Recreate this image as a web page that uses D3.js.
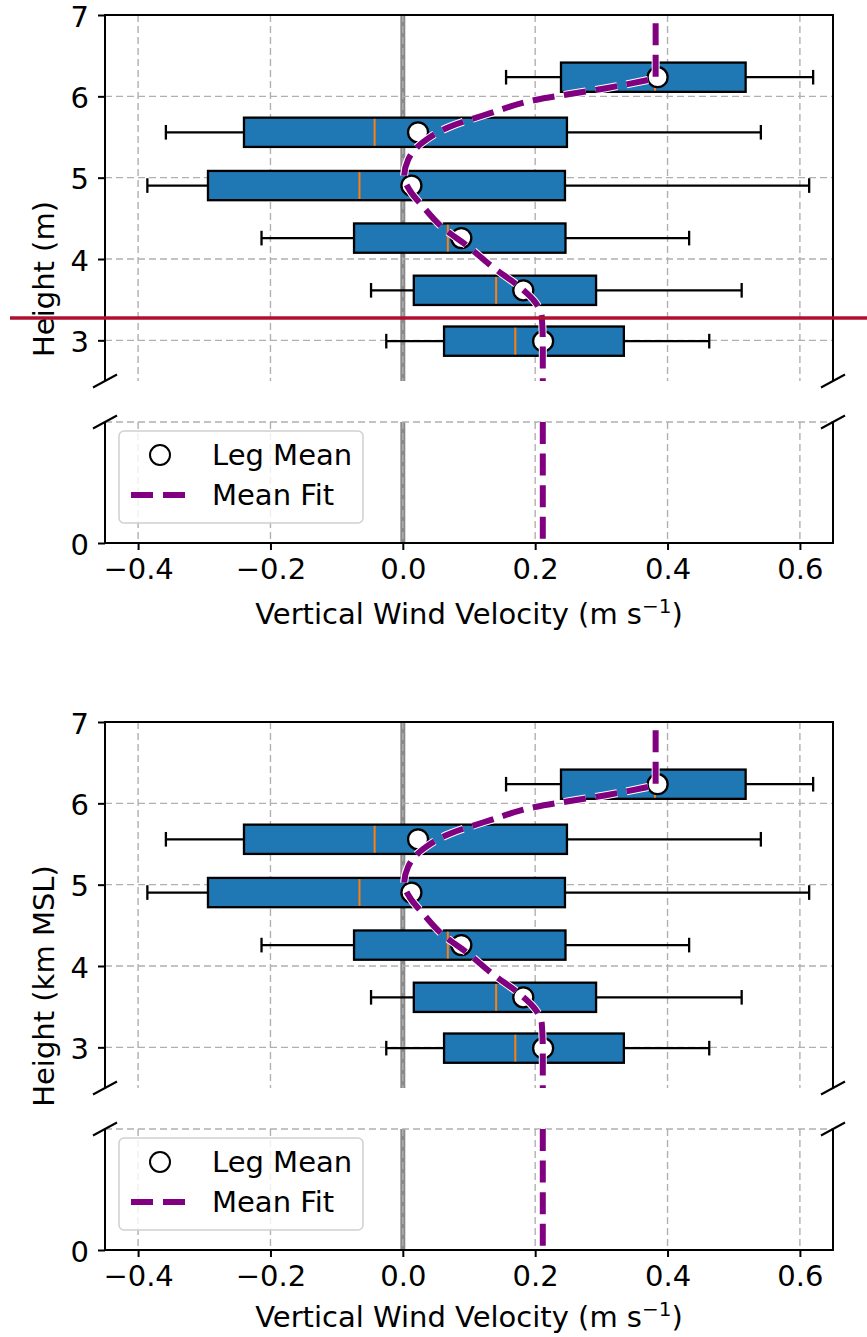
<!DOCTYPE html>
<html>
<head>
<meta charset="utf-8">
<script src="https://cdn.jsdelivr.net/npm/d3@7"></script>
<style>
  html, body { margin: 0; padding: 0; background: #fff; }
  svg { display: block; font-family: "DejaVu Sans", sans-serif; }
</style>
</head>
<body>
<svg id="fig" width="867" height="1337"></svg>
<script>
// Per-leg box statistics (vertical wind velocity, m/s) at each flight-leg height
const legHeights   = [6.235, 5.558, 4.903, 4.257, 3.615, 2.99];
const whiskerLow   = [0.156, -0.358, -0.386, -0.2135, -0.048, -0.025];
const quartile1    = [0.239, -0.240, -0.2944, -0.0737, 0.0166, 0.0623];
const medians      = [0.381, -0.0426, -0.0655, 0.068, 0.141, 0.170];
const quartile3    = [0.518, 0.248, 0.245, 0.2458, 0.292, 0.334];
const whiskerHigh  = [0.620, 0.541, 0.614, 0.4326, 0.512, 0.463];
const legMeans     = [0.385, 0.023, 0.013, 0.0884, 0.182, 0.212];

// Mean fit profile (height, velocity)
const fitHeights = [6.90, 6.22, 6.10, 5.955, 5.79, 5.626, 5.44, 5.22, 5.01, 4.85, 4.64, 4.38, 4.17, 3.90, 3.66, 3.47, 3.29, 2.96, 2.5];
const fitValues  = [0.382, 0.382, 0.307, 0.200, 0.131, 0.071, 0.031, 0.008, 0.002, 0.010, 0.031, 0.061, 0.096, 0.136, 0.176, 0.200, 0.210, 0.2115, 0.2115];
const surfaceFit = 0.2115;

// Axis ticks
const xTicks = [-0.4, -0.2, 0.0, 0.2, 0.4, 0.6];
const yTicksUpper = [3, 4, 5, 6, 7];
const yTicksLower = [0];
const panelLabels = ["Height (m)", "Height (km MSL)"];

const svg = d3.select("#fig");
const FONT = 29;
const BOX_FILL = "#1f77b4";
const FIT_COLOR = "#800080";
const GRID = "#b0b0b0";
const boxHalf = 0.18;

const x = d3.scaleLinear().domain([-0.45, 0.65]).range([105, 833]);

function drawPanel(offset, ylabel, xLabelY) {
  const g = svg.append("g").attr("transform", `translate(0,${offset})`);
  const yU = d3.scaleLinear().domain([2.5, 7]).range([381, 15]);
  const yL = d3.scaleLinear().domain([0, 1.5]).range([543, 422]);
  const [x0, x1] = x.range();

  // zero reference line in both sub-axes
  [[yU, 7, 2.5], [yL, 1.5, 0]].forEach(([ys, a, b]) => {
    g.append("line").attr("x1", x(0)).attr("x2", x(0))
      .attr("y1", ys(a)).attr("y2", ys(b))
      .attr("stroke", "#8a8a8a").attr("stroke-width", 5);
  });

  // grid
  const grid = g.append("g").attr("stroke", GRID).attr("stroke-width", 1.4)
    .attr("stroke-dasharray", "7,4").attr("fill", "none");
  xTicks.forEach(t => {
    grid.append("line").attr("x1", x(t)).attr("x2", x(t)).attr("y1", yU(7)).attr("y2", yU(2.5));
    grid.append("line").attr("x1", x(t)).attr("x2", x(t)).attr("y1", yL(1.5)).attr("y2", yL(0));
  });
  [3, 4, 5, 6].forEach(t => {
    grid.append("line").attr("x1", x0).attr("x2", x1).attr("y1", yU(t)).attr("y2", yU(t));
  });
  grid.append("line").attr("x1", x0).attr("x2", x1).attr("y1", yL(1.5)).attr("y2", yL(1.5));

  // box plots
  const boxes = g.append("g");
  legHeights.forEach((h, i) => {
    const b = boxes.append("g").attr("stroke", "#000").attr("stroke-width", 2.3);
    b.append("line").attr("x1", x(whiskerLow[i])).attr("x2", x(quartile1[i]))
      .attr("y1", yU(h)).attr("y2", yU(h));
    b.append("line").attr("x1", x(quartile3[i])).attr("x2", x(whiskerHigh[i]))
      .attr("y1", yU(h)).attr("y2", yU(h));
    [whiskerLow[i], whiskerHigh[i]].forEach(v => {
      b.append("line").attr("x1", x(v)).attr("x2", x(v))
        .attr("y1", yU(h + boxHalf / 2)).attr("y2", yU(h - boxHalf / 2));
    });
    b.append("rect").attr("x", x(quartile1[i])).attr("width", x(quartile3[i]) - x(quartile1[i]))
      .attr("y", yU(h + boxHalf)).attr("height", yU(h - boxHalf) - yU(h + boxHalf))
      .attr("fill", BOX_FILL);
    b.append("line").attr("x1", x(medians[i])).attr("x2", x(medians[i]))
      .attr("y1", yU(h + boxHalf) + 1.2).attr("y2", yU(h - boxHalf) - 1.2)
      .attr("stroke", "#ff7f0e").attr("stroke-width", 2);
  });

  // leg means
  g.append("g").selectAll("circle").data(legHeights).join("circle")
    .attr("cx", (h, i) => x(legMeans[i])).attr("cy", h => yU(h)).attr("r", 10)
    .attr("fill", "#fff").attr("stroke", "#000").attr("stroke-width", 2.3);

  // mean fit curve: straight above the top leg, smooth below it
  const pts = fitHeights.map((h, i) => [x(fitValues[i]), yU(h)]);
  const topPart = d3.line()(pts.slice(0, 2));
  const rest = d3.line().curve(d3.curveMonotoneY)(pts.slice(1));
  const fitPath = topPart + rest.replace(/^M[^LC]*/, "");
  const lowerPath = d3.line()([[x(surfaceFit), yL(1.5)], [x(surfaceFit), yL(0)]]);
  [fitPath, lowerPath].forEach(p => {
    g.append("path").attr("d", p).attr("fill", "none").attr("stroke", "#fff")
      .attr("stroke-width", 8).attr("stroke-dasharray", "22,9.6");
    g.append("path").attr("d", p).attr("fill", "none").attr("stroke", FIT_COLOR)
      .attr("stroke-width", 6).attr("stroke-dasharray", "22,9.6");
  });

  // spines
  const sp = g.append("g").attr("stroke", "#000").attr("stroke-width", 2).attr("fill", "none");
  sp.append("path").attr("d", `M${x0},${yU(2.5)}V${yU(7)}H${x1}V${yU(2.5)}`);
  sp.append("path").attr("d", `M${x0},${yL(1.5)}V${yL(0)}H${x1}V${yL(1.5)}`);
  // broken-axis marks
  [[x0, yU(2.5)], [x1, yU(2.5)], [x0, yL(1.5)], [x1, yL(1.5)]].forEach(([cx, cy]) => {
    sp.append("line").attr("x1", cx - 12).attr("y1", cy + 6.5).attr("x2", cx + 12).attr("y2", cy - 6.5);
  });

  // axes
  const axU = g.append("g").attr("transform", `translate(${x0},0)`)
    .call(d3.axisLeft(yU).tickValues(yTicksUpper).tickFormat(d3.format("d")).tickSize(7).tickPadding(9));
  const axL = g.append("g").attr("transform", `translate(${x0},0)`)
    .call(d3.axisLeft(yL).tickValues(yTicksLower).tickFormat(d3.format("d")).tickSize(7).tickPadding(9));
  const axX = g.append("g").attr("transform", `translate(0,${yL(0)})`)
    .call(d3.axisBottom(x).tickValues(xTicks).tickFormat(d3.format(".1f")).tickSize(7).tickPadding(8));
  [axU, axL, axX].forEach(a => {
    a.select(".domain").remove();
    a.selectAll(".tick line").attr("stroke", "#000").attr("stroke-width", 2);
    a.selectAll(".tick text").attr("fill", "#000").style("font-size", FONT + "px")
      .style("font-family", "DejaVu Sans");
  });
  [axU, axL].forEach(a => a.selectAll(".tick text").attr("dy", "0.38em"));

  // axis labels
  const xl = g.append("text").attr("x", (x0 + x1) / 2).attr("y", xLabelY)
    .attr("text-anchor", "middle").style("font-size", FONT + "px");
  xl.append("tspan").text("Vertical Wind Velocity (m s");
  xl.append("tspan").attr("dy", -11).style("font-size", "20px").text("\u22121");
  xl.append("tspan").attr("dy", 11).text(")");

  g.append("text").attr("transform", `translate(54,${(yU(7) + yL(0)) / 2}) rotate(-90)`)
    .attr("text-anchor", "middle").style("font-size", FONT + "px").text(ylabel);

  // legend
  const lg = g.append("g");
  lg.append("rect").attr("x", 119).attr("y", 431).attr("width", 244).attr("height", 92)
    .attr("rx", 5).attr("fill", "#fff").attr("fill-opacity", 0.8)
    .attr("stroke", "#d0d0d0").attr("stroke-width", 1.5);
  lg.append("circle").attr("cx", 160).attr("cy", 455).attr("r", 10)
    .attr("fill", "#fff").attr("stroke", "#000").attr("stroke-width", 2);
  lg.append("line").attr("x1", 131).attr("x2", 185).attr("y1", 495).attr("y2", 495)
    .attr("stroke", FIT_COLOR).attr("stroke-width", 6).attr("stroke-dasharray", "22,10");
  lg.append("text").attr("x", 212).attr("y", 465).style("font-size", FONT + "px").text("Leg Mean");
  lg.append("text").attr("x", 212).attr("y", 505).style("font-size", FONT + "px").text("Mean Fit");
}

drawPanel(0, panelLabels[0], 624);
drawPanel(707, panelLabels[1], 620);

// horizontal marker line across the upper panel
svg.append("line").attr("x1", 10).attr("x2", 867).attr("y1", 318).attr("y2", 318)
  .attr("stroke", "#b01030").attr("stroke-width", 3.5);
</script>
</body>
</html>
